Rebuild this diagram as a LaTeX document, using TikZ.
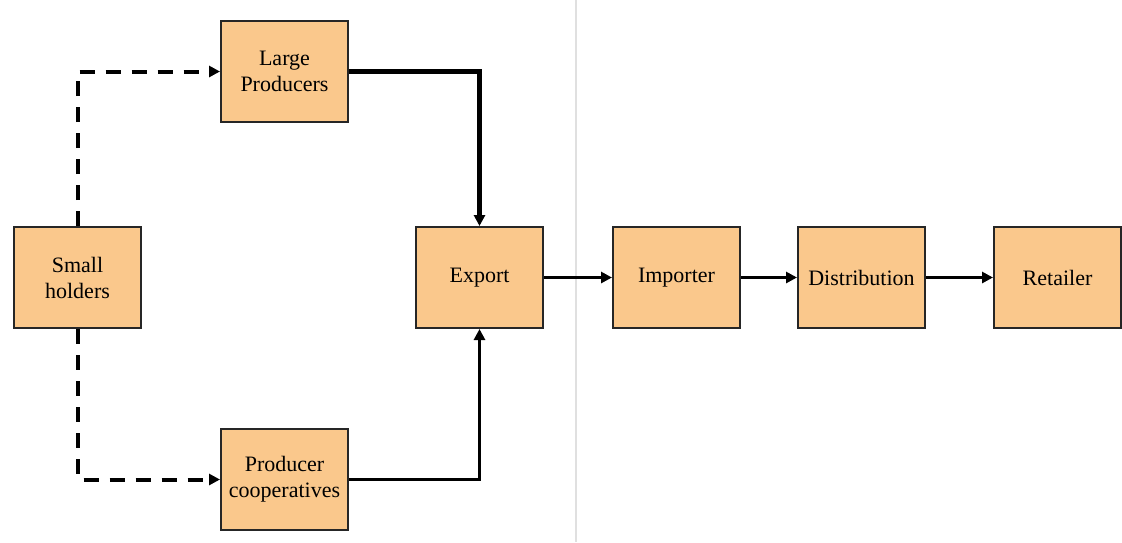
\documentclass[tikz,border=0pt]{standalone}
\usepackage{fontspec}
\setmainfont{Liberation Serif}
\usetikzlibrary{arrows.meta}
\definecolor{boxfill}{RGB}{250,200,140}
\begin{document}
\begin{tikzpicture}[x=1pt,y=-1pt,
  box/.style={draw=black!85, line width=2pt, fill=boxfill, minimum width=127pt, minimum height=101pt,
     inner sep=0pt, align=center, font=\fontsize{22}{26}\selectfont, anchor=north west},
  flow/.style={draw=black, line width=3pt, -{Triangle[length=11pt,width=11pt]}},
  dflow/.style={draw=black, line width=4pt, dash pattern=on 15pt off 11pt, -{Triangle[length=11pt,width=11pt]}}]
\useasboundingbox (0,0) rectangle (1122,542);
\draw[black!12, line width=2pt] (576,0) -- (576,542);
\node[box] (lp) at (220,20) {Large\\Producers};
\node[box] (sh) at (13,226) {Small\\holders};
\node[box] (ex) at (415,226) {Export};
\node[box] (pc) at (220,428) {Producer\\cooperatives};
\node[box] (im) at (612,226) {Importer};
\node[box] (di) at (797,226) {Distribution};
\node[box] (re) at (993,226) {Retailer};
\draw[dflow] (sh.north -| 78,0) |- (lp.west);
\draw[dflow] (sh.south -| 78,0) |- (pc.west);
\draw[flow, line width=5pt] (lp.east) -| (ex.north);
\draw[flow, line width=3.5pt] (pc.east) -| (ex.south);
\draw[flow] (ex) -- (im);
\draw[flow] (im) -- (di);
\draw[flow] (di) -- (re);
\end{tikzpicture}
\end{document}
